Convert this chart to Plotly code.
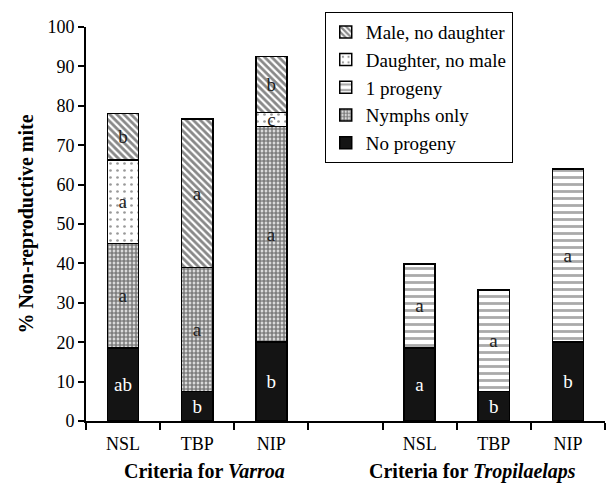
import plotly.graph_objects as go

# Bar positions: three Varroa criteria, an empty slot, three Tropilaelaps criteria
x_pos = [0, 1, 2, 4, 5, 6]
criteria = ["NSL", "TBP", "NIP", "NSL", "TBP", "NIP"]
boundaries = [-0.5, 0.5, 1.5, 2.5, 3.5, 4.5, 5.5, 6.5]

# Stacked components (% of non-reproductive mites)
no_progeny = [18.5, 7.5, 20.0, 18.5, 7.5, 20.0]
nymphs_only = [26.5, 31.5, 54.7, None, None, None]
one_progeny = [None, None, None, 21.4, 25.7, 44.0]
daughter_no_male = [21.2, None, 3.6, None, None, None]
male_no_daughter = [11.8, 37.6, 14.2, None, None, None]

# Significance letters for each segment
lt_no_progeny = ["ab", "b", "b", "a", "b", "b"]
lt_nymphs = ["a", "a", "a", "", "", ""]
lt_one = ["", "", "", "a", "a", "a"]
lt_daughter = ["a", "", "c", "", "", ""]
lt_male = ["b", "a", "b", "", "", ""]

FONT = '"Liberation Serif", "Times New Roman", Times, serif'

series = [
    ("No progeny", no_progeny, lt_no_progeny,
     dict(color="#141414", pattern=dict(shape="")), "white"),
    ("Nymphs only", nymphs_only, lt_nymphs,
     dict(color="white", pattern=dict(shape=".", fgcolor="#000000", bgcolor="white",
                                      size=4, solidity=0.72, fillmode="overlay")), "#222222"),
    ("1 progeny", one_progeny, lt_one,
     dict(color="white", pattern=dict(shape="-", fgcolor="#555555", bgcolor="white",
                                      size=7, solidity=0.4, fillmode="overlay")), "#222222"),
    ("Daughter, no male", daughter_no_male, lt_daughter,
     dict(color="white", pattern=dict(shape=".", fgcolor="#333333", bgcolor="white",
                                      size=7, solidity=0.12, fillmode="overlay")), "#222222"),
    ("Male, no daughter", male_no_daughter, lt_male,
     dict(color="white", pattern=dict(shape="\\", fgcolor="#111111", bgcolor="white",
                                      size=5, solidity=0.55, fillmode="overlay")), "#222222"),
]

fig = go.Figure()
for name, vals, letters, marker, tcolor in series:
    marker = dict(marker, line=dict(color="black", width=1.5))
    fig.add_trace(go.Bar(
        x=x_pos, y=vals, name=name, marker=marker, width=0.42,
        text=letters, textposition="inside", insidetextanchor="middle",
        textangle=0, constraintext="none",
        textfont=dict(family=FONT, size=19, color=tcolor),
    ))

fig.update_layout(
    barmode="stack",
    width=611, height=488,
    margin=dict(l=86, r=6, t=27, b=67),
    paper_bgcolor="white", plot_bgcolor="white",
    font=dict(family=FONT, size=18, color="black"),
    showlegend=True,
    legend=dict(
        x=0.46, xanchor="left", y=1.038, yanchor="top",
        bordercolor="black", borderwidth=1, bgcolor="white",
        font=dict(family=FONT, size=19, color="black"),
        traceorder="reversed",
    ),
    xaxis=dict(
        range=[-0.5, 6.5], showgrid=False, zeroline=False,
        showline=True, linecolor="black", linewidth=2,
        tickmode="array", tickvals=x_pos, ticktext=criteria,
        ticks="", ticklabelstandoff=5,
        tickfont=dict(family=FONT, size=18, color="black"),
        minor=dict(tickmode="array", tickvals=boundaries, ticks="outside",
                   ticklen=7, tickwidth=1.5, tickcolor="black"),
    ),
    yaxis=dict(
        range=[0, 100], dtick=10, showgrid=False, zeroline=False,
        showline=True, linecolor="black", linewidth=2,
        ticks="outside", ticklen=6, tickwidth=1.5, tickcolor="black",
        tickfont=dict(family=FONT, size=18, color="black"),
        title=dict(text="<b>% Non-reproductive mite</b>",
                   font=dict(family=FONT, size=20, color="black"), standoff=8),
    ),
)

fig.add_annotation(text="<b>Criteria for <i>Varroa</i></b>", x=1.1, y=0,
                   xref="x", yref="paper", yanchor="middle", yshift=-50,
                   showarrow=False, font=dict(family=FONT, size=20, color="black"))
fig.add_annotation(text="<b>Criteria for <i>Tropilaelaps</i></b>", x=4.71, y=0,
                   xref="x", yref="paper", yanchor="middle", yshift=-50,
                   showarrow=False, font=dict(family=FONT, size=20, color="black"))

fig.write_html("out.html")
